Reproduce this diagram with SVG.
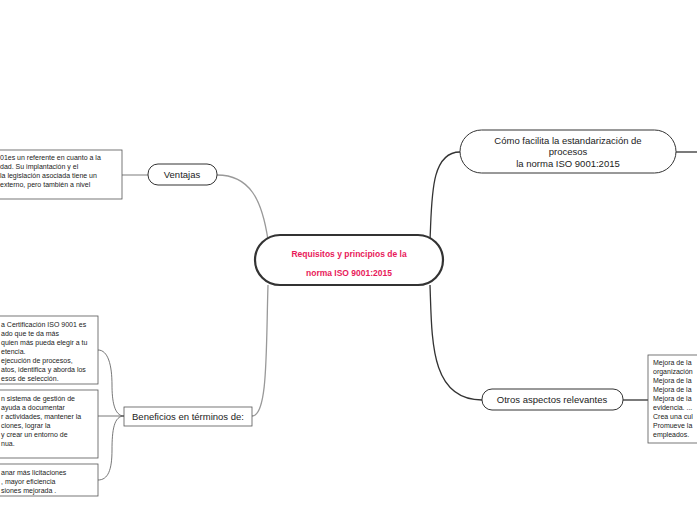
<svg xmlns="http://www.w3.org/2000/svg" width="697" height="520" viewBox="0 0 697 520">
<style>
text{font-family:"Liberation Sans",Arial,sans-serif;fill:#222}
.s{font-size:7px}
.m{font-size:9.5px}
.box{fill:#fff;stroke:#555;stroke-width:0.8}
.pill{fill:#fff;stroke:#333;stroke-width:1}
.c{fill:none;stroke:#333;stroke-width:1.3}
.g{fill:none;stroke:#999;stroke-width:1.3}
.t{fill:none;stroke:#555;stroke-width:0.8}
</style>
<rect width="697" height="520" fill="#fff"/>
<g id="connectors">
<path class="g" d="M268,240 C262,200 250,175 217,175"/>
<path class="g" d="M148,175 H122"/>
<path class="g" d="M268,285 C266,350 268,416 252,416"/>
<path class="t" d="M124,416 C114,416 112,400 112,385 C112,365 108,350 98,350"/>
<path class="t" d="M124,416 H98"/>
<path class="t" d="M124,416 C114,416 112,430 112,450 C112,470 108,480 98,480"/>
<path class="c" d="M430,240 C432,200 430,152 460,152"/>
<path class="c" d="M676,152 H697"/>
<path class="c" d="M430,285 C432,340 430,400 482,400"/>
<path class="c" d="M623,400 H648"/>
</g>
<g id="root">
<rect x="255" y="235" width="188" height="50" rx="25" fill="#fff" stroke="#333" stroke-width="2.2"/>
<text x="349" y="257" text-anchor="middle" font-size="8.5" font-weight="bold" style="fill:#e8195a">Requisitos y principios de la</text>
<text x="349" y="276" text-anchor="middle" font-size="8.5" font-weight="bold" style="fill:#e8195a">norma ISO 9001:2015</text>
</g>
<g id="ventajas">
<rect class="pill" x="148" y="164" width="69" height="21" rx="10"/>
<text class="m" x="182" y="178" text-anchor="middle">Ventajas</text>
</g>
<g id="ventajas-text">
<rect class="box" x="-10" y="150" width="132" height="49"/>
<text class="s" x="0" y="160">01es un referente en cuanto a la</text>
<text class="s" x="0" y="169">dad. Su implantación y el</text>
<text class="s" x="0" y="178">la legislación asociada tiene un</text>
<text class="s" x="0" y="187">externo, pero también a nivel</text>
</g>
<g id="beneficios">
<rect class="box" x="124" y="407" width="128" height="19" stroke="#444"/>
<text class="m" x="188" y="420" text-anchor="middle">Beneficios en términos de:</text>
</g>
<g id="ben1">
<rect class="box" x="-10" y="316" width="108" height="68"/>
<text class="s" x="1" y="327">a Certificación ISO 9001 es</text>
<text class="s" x="1" y="336">ado que te da más</text>
<text class="s" x="1" y="345">quien más pueda elegir a tu</text>
<text class="s" x="1" y="354">etencia.</text>
<text class="s" x="1" y="363">ejecución de procesos,</text>
<text class="s" x="1" y="372">atos, identifica y aborda los</text>
<text class="s" x="1" y="381">esos de selección.</text>
</g>
<g id="ben2">
<rect class="box" x="-10" y="390" width="108" height="68"/>
<text class="s" x="1" y="401">n sistema de gestión de</text>
<text class="s" x="1" y="410"> ayuda a documentar</text>
<text class="s" x="1" y="419">r actividades, mantener la</text>
<text class="s" x="1" y="428">ciones, lograr la</text>
<text class="s" x="1" y="437">y crear un entorno de</text>
<text class="s" x="1" y="446">nua.</text>
</g>
<g id="ben3">
<rect class="box" x="-10" y="464" width="108" height="32"/>
<text class="s" x="1" y="475">anar más licitaciones</text>
<text class="s" x="1" y="484">, mayor eficiencia</text>
<text class="s" x="1" y="493">siones mejorada .</text>
</g>
<g id="estandarizacion">
<rect class="pill" x="460" y="130" width="216" height="43" rx="21.5"/>
<text class="m" x="568" y="144" text-anchor="middle">Cómo facilita la estandarización de</text>
<text class="m" x="568" y="155" text-anchor="middle">procesos</text>
<text class="m" x="568" y="167" text-anchor="middle">la norma ISO 9001:2015</text>
</g>
<g id="otros">
<rect class="pill" x="482" y="389" width="141" height="21" rx="10"/>
<text class="m" x="552" y="403" text-anchor="middle">Otros aspectos relevantes</text>
</g>
<g id="otros-text">
<rect class="box" x="648" y="355" width="60" height="88"/>
<text class="s" x="653" y="365">Mejora de la</text>
<text class="s" x="653" y="374">organización</text>
<text class="s" x="653" y="383">Mejora de la</text>
<text class="s" x="653" y="392">Mejora de la</text>
<text class="s" x="653" y="401">Mejora de la</text>
<text class="s" x="653" y="410">evidencia. ...</text>
<text class="s" x="653" y="419">Crea una cul</text>
<text class="s" x="653" y="428">Promueve la</text>
<text class="s" x="653" y="437">empleados.</text>
</g>
</svg>
